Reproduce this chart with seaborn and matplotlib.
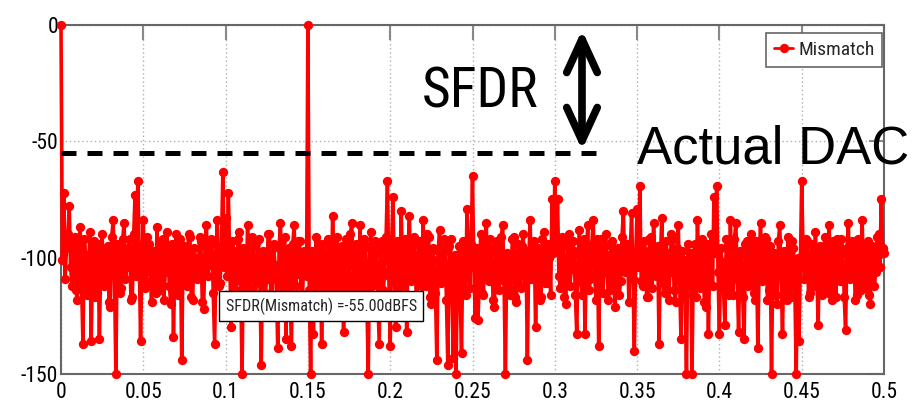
import numpy as np
import pandas as pd
import matplotlib
matplotlib.use("Agg")
import matplotlib.pyplot as plt
import seaborn as sns
from matplotlib import font_manager
from matplotlib.font_manager import FontProperties

# ---- data: spectrum level in dBFS, 60 bins per 0.05 of normalized frequency ----
level_00 = [0, -101, -72, -109, -96, -90, -78, -104, -112, -93,
            -91, -114, -118, -95, -87, -111, -137, -92, -99, -116,
            -108, -89, -136, -102, -93, -117, -115, -94, -135, -100,
            -90, -112, -110, -96, -95, -119, -121, -91, -84, -107,
            -150, -94, -97, -115, -113, -92, -85, -109, -104, -96,
            -92, -118, -117, -90, -73, -108, -67, -98, -136, -103]
level_05 = [-84, -113, -110, -91, -94, -106, -119, -97, -99, -115,
            -87, -105, -114, -93, -92, -118, -106, -89, -96, -112,
            -120, -94, -134, -101, -90, -116, -108, -92, -144, -99,
            -95, -110, -112, -90, -91, -117, -118, -96, -100, -109,
            -107, -91, -93, -119, -122, -95, -86, -108, -103, -92,
            -94, -115, -137, -98, -84, -112, -111, -95, -63, -104]
level_10 = [-83, -108, -72, -100, -130, -93, -97, -114, -115, -92,
            -89, -110, -150, -96, -101, -117, -86, -104, -113, -91,
            -95, -116, -119, -93, -92, -111, -146, -97, -98, -115,
            -109, -90, -90, -118, -117, -94, -103, -109, -139, -96,
            -85, -113, -112, -91, -135, -99, -96, -117, -138, -94,
            -86, -112, -107, -93, -93, -116, -120, -97, -99, -108]
level_15 = [0, -114, -150, -97, -133, -110, -91, -118, -110, -94,
            -137, -100, -94, -115, -116, -92, -105, -119, -82, -103,
            -113, -91, -97, -116, -121, -95, -132, -99, -92, -113,
            -108, -90, -85, -110, -118, -94, -100, -117, -86, -105,
            -115, -92, -95, -119, -150, -96, -89, -112, -111, -93,
            -98, -117, -137, -95, -93, -114, -106, -91, -67, -108]
level_20 = [-138, -97, -74, -105, -130, -93, -96, -116, -80, -102,
            -114, -92, -132, -98, -82, -110, -109, -91, -94, -118,
            -117, -93, -99, -112, -84, -106, -112, -90, -91, -117,
            -120, -96, -101, -115, -144, -97, -88, -111, -108, -92,
            -97, -118, -146, -95, -92, -114, -143, -99, -150, -105,
            -95, -117, -141, -93, -104, -116, -79, -100, -113, -94]
level_25 = [-65, -104, -126, -96, -127, -109, -90, -115, -116, -93,
            -85, -108, -110, -92, -97, -118, -121, -95, -93, -114,
            -107, -91, -86, -110, -150, -98, -99, -116, -114, -92,
            -91, -117, -119, -94, -102, -113, -95, -90, -112, -97,
            -144, -101, -84, -109, -108, -93, -130, -100, -96, -118,
            -117, -92, -89, -111, -111, -94, -100, -116, -75, -98]
level_30 = [-67, -96, -75, -108, -113, -91, -94, -117, -120, -95,
            -90, -112, -105, -93, -97, -116, -133, -99, -88, -110,
            -116, -92, -133, -101, -86, -114, -109, -94, -84, -107,
            -118, -92, -138, -98, -92, -115, -106, -90, -99, -118,
            -114, -95, -93, -111, -121, -97, -96, -116, -110, -91,
            -80, -106, -103, -94, -119, -97, -81, -109, -140, -100]
level_35 = [-79, -104, -69, -110, -112, -93, -97, -117, -117, -92,
            -91, -113, -85, -102, -108, -95, -137, -99, -83, -111,
            -115, -93, -98, -118, -106, -90, -92, -114, -119, -96,
            -86, -110, -135, -97, -101, -116, -150, -94, -111, -98,
            -150, -102, -94, -117, -84, -105, -113, -92, -97, -119,
            -121, -94, -133, -99, -90, -112, -74, -98, -69, -106]
level_40 = [-133, -96, -102, -114, -129, -92, -95, -116, -84, -103,
            -116, -92, -85, -109, -132, -97, -99, -117, -135, -94,
            -93, -112, -111, -90, -96, -115, -118, -93, -139, -101,
            -85, -110, -107, -91, -92, -118, -114, -95, -150, -99,
            -98, -116, -120, -93, -86, -108, -133, -97, -104, -118,
            -91, -106, -117, -93, -96, -113, -150, -100, -136, -104]
level_45 = [-67, -98, -109, -92, -93, -117, -115, -94, -100, -112,
            -89, -106, -129, -95, -97, -116, -112, -91, -94, -115,
            -86, -104, -118, -93, -103, -117, -92, -108, -110, -92,
            -98, -117, -131, -96, -85, -109, -107, -93, -95, -118,
            -116, -92, -101, -114, -84, -103, -113, -94, -93, -116,
            -120, -95, -97, -112, -106, -91, -90, -104, -75, -96,
            -98]

levels = (level_00 + level_05 + level_10 + level_15 + level_20 +
          level_25 + level_30 + level_35 + level_40 + level_45)
n_bins = len(levels)
freq = np.arange(n_bins) / (2.0 * (n_bins - 1))

x_ticks = [0, 0.05, 0.1, 0.15, 0.2, 0.25, 0.3, 0.35, 0.4, 0.45, 0.5]
x_tick_labels = ["0", "0.05", "0.1", "0.15", "0.2", "0.25", "0.3", "0.35", "0.4", "0.45", "0.5"]
y_ticks = [-150, -100, -50, 0]
y_tick_labels = ["-150", "-100", "-50", "0"]
sfdr_db = -55.0
series_name = "Mismatch"

df = pd.DataFrame({"freq": freq, "level": levels})

# ---- fonts ----
sns.set_theme(style="white")
plt.rcParams["font.family"] = ["Liberation Sans", "DejaVu Sans"]

narrow_path = None
cands = []
for f in font_manager.fontManager.ttflist:
    st = str(f.stretch).lower()
    nm = f.name
    if f.style != "normal":
        continue
    if f.weight not in (400, "normal", "regular", "book"):
        continue
    if ("narrow" in nm.lower() or "condensed" in nm.lower() or
            st in ("condensed", "semi-condensed", "extra-condensed", "ultra-condensed")):
        cands.append(f)
pref = ["Liberation Sans Narrow", "Roboto Condensed", "Open Sans Condensed", "Noto Sans Condensed",
        "DejaVu Sans"]
cands.sort(key=lambda f: pref.index(f.name) if f.name in pref else 99)
if cands:
    narrow_path = cands[0].fname


def fp(size):
    if narrow_path:
        return FontProperties(fname=narrow_path, size=size)
    return FontProperties(family=["Liberation Sans", "DejaVu Sans"], size=size * 0.88)


fig = plt.figure(figsize=(9.14, 4.11), dpi=100)
ax = fig.add_axes([61 / 914, 37 / 411, 823 / 914, 349 / 411])

sns.lineplot(data=df, x="freq", y="level", ax=ax, color="#ff0000", lw=2.6,
             marker="o", ms=5.5, mfc="#ff0000", mec="#ff0000", mew=1.2,
             estimator=None, sort=False, label=series_name, zorder=3, clip_on=False)

ax.set_xlim(0, 0.5)
ax.set_ylim(-150, 0)
ax.set_xticks(x_ticks)
ax.set_xticklabels(x_tick_labels)
ax.set_yticks(y_ticks)
ax.set_yticklabels(y_tick_labels)
ax.set_xlabel("")
ax.set_ylabel("")

for lab in ax.get_xticklabels() + ax.get_yticklabels():
    lab.set_fontproperties(fp(15.5))

ax.grid(True, linestyle=(0, (1, 2)), color="#b0b0b0", lw=1.0, zorder=0)
ax.tick_params(axis="both", direction="in", length=11, width=1.5, color="#888888",
               top=True, right=True, labelcolor="black")
ax.tick_params(axis="x", pad=6)
ax.tick_params(axis="y", pad=2)
for s in ax.spines.values():
    s.set_color("#666666")
    s.set_linewidth(1.5)

# SFDR reference line
ax.hlines(sfdr_db, 0, 0.332, colors="black", linestyles=(0, (3.0, 2.2)), lw=3.6, zorder=4)

# legend
leg = ax.legend(loc="upper right", bbox_to_anchor=(0.998, 0.977), prop=fp(14),
                frameon=True, fancybox=False, edgecolor="#666666", framealpha=1,
                handlelength=1.0, handletextpad=0.25, borderpad=0.4, borderaxespad=0)
leg.get_frame().set_linewidth(1.2)
for h in leg.get_lines():
    h.set_linewidth(2.0)

# annotation box
ax.text(0.1, -120.8, "SFDR(Mismatch) =-55.00dBFS", fontproperties=fp(11.6),
        ha="left", va="center", zorder=5,
        bbox=dict(boxstyle="square,pad=0.4", fc="white", ec="black", lw=1.0))

# big overlays
fig.text(480 / 914, 1 - 107 / 411, "SFDR", fontproperties=fp(40),
         ha="center", va="baseline", color="black")
fig.text(637 / 914, 1 - 163 / 411, "Actual DAC", fontsize=38, ha="left", va="baseline",
         family=["Liberation Sans", "DejaVu Sans"], color="black")
ax.annotate("", xy=(582 / 914, 1 - 150 / 411), xycoords="figure fraction",
            xytext=(582 / 914, 1 - 30 / 411), textcoords="figure fraction",
            arrowprops=dict(arrowstyle="<->,head_length=1.2,head_width=0.55", lw=5.5,
                            color="black", mutation_scale=20, shrinkA=0, shrinkB=0))

fig.savefig("out.png", dpi=100)
